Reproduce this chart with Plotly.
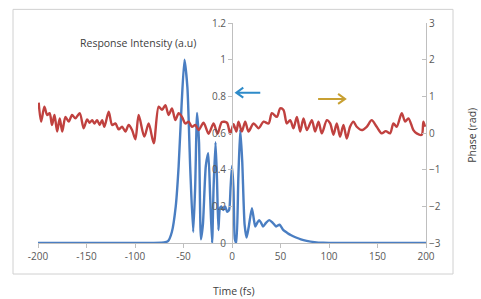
import plotly.graph_objects as go

# ---- data ----
time_intensity = [-200, -100, -70, -66, -62, -58, -55, -52, -49, -46, -43, -40, -38, -36, -34, -32, -30,
                  -27, -24.5, -22.5, -20.5, -19, -17, -15.5, -14, -12.5, -11, -9, -7, -5, -3, -1.5, 0,
                  1.5, 3, 4.5, 6.5, 8.5, 10.5, 13, 15, 17, 20.5, 22.5, 24, 26, 28, 30, 32, 35, 38.5,
                  42, 45.5, 49, 53, 57, 61, 66, 71, 77, 85, 94, 100, 200]
intensity = [0, 0, 0.003, 0.01, 0.06, 0.2, 0.42, 0.75, 1.0, 0.85, 0.4, 0.06, 0.3, 0.71, 0.55, 0.02, 0.1,
             0.42, 0.49, 0.25, 0.0, 0.3, 0.55, 0.35, 0.07, 0.19, 0.2, 0.18, 0.2, 0.17, 0.18, 0.3, 0.42,
             0.3, 0.02, 0.0, 0.35, 0.62, 0.45, 0.1, 0.03, 0.08, 0.19, 0.13, 0.09, 0.11, 0.125, 0.11, 0.09,
             0.11, 0.125, 0.11, 0.09, 0.1, 0.07, 0.055, 0.042, 0.03, 0.02, 0.012, 0.005, 0.001, 0, 0]

time_phase = [-199.3, -196.8, -193.4, -190.6, -188, -185.6, -183, -180.3, -177.6, -175, -171.7, -168.3,
              -164.9, -161.4, -157, -152.9, -149.4, -146.7, -144.2, -141.9, -139.1, -136.4, -133.9,
              -131.6, -127.1, -123.6, -120.2, -116.8, -113.3, -109.9, -106.5, -103, -99.6, -96.2,
              -90.4, -85.9, -80.7, -75.6, -72.1, -68.7, -65.3, -61.9, -58.4, -55, -51.6, -48.1, -44.7,
              -41.3, -37.8, -34.4, -29.3, -24.1, -19, -14.9, -10.4, -5.2, -1.8, 1.6, 4.5, 6.7, 10.2,
              13.6, 17, 22.2, 27.4, 32.5, 37.7, 41.1, 46.3, 49.7, 53.1, 56.5, 60, 63.4, 66.9, 70.3,
              73.7, 77.2, 82.3, 85.7, 89.2, 92.6, 97.8, 101.2, 104.6, 108, 111.4, 114.9, 118.3, 121.7,
              125.2, 128.6, 133.8, 138.9, 144, 149.2, 154.3, 158.5, 163, 166.4, 169.8, 175, 178.5,
              181.9, 187, 190.4, 195.6, 197.3, 199]
phase = [0.83, 0.31, 0.72, 0.49, 0.54, 0.22, 0.49, 0.04, 0.4, 0.04, 0.44, 0.31,
         0.49, 0.4, 0.54, 0.13, 0.37, 0.28, 0.35, 0.26, 0.35, 0.22, 0.35,
         0.17, 0.58, 0.22, 0.26, 0.1, 0.17, 0.04, 0.22, 0.08, -0.17, 0.49,
         -0.1, 0.26, -0.28, 0.72, 0.63, 0.76, 0.49, 0.67, 0.35, 0.54, 0.44, 0.26, 0.31,
         0.17, 0.22, 0.08, 0.28, -0.02, 0.26, -0.02, 0.3, 0.28, -0.02, 0.24, 0.04, 0.31, 0.04,
         0.31, 0.04, 0.26, 0.13, 0.31, 0.26, 0.54, 0.44, 0.67, 0.63, 0.26, 0.35, 0.13, 0.44, 0.04,
         0.4, 0.08, 0.35, 0.04, 0.31, -0.01, 0.35, 0.26, -0.05, 0.26, -0.1, 0.22, -0.15, 0.17,
         0.31, 0.17, 0.08, 0.17, 0.35, 0.17, -0.01, 0.05, -0.01, 0.26, 0.17, 0.54, 0.31,
         0.4, 0.08, -0.01, -0.05, 0.31, 0.17]

x_ticks = [-200, -150, -100, -50, 0, 50, 100, 150, 200]
y1_ticks = [0, 0.2, 0.4, 0.6, 0.8, 1, 1.2]
y1_labels = ["0", "0.2", "0.4", "0.6", "0.8", "1", "1.2"]
y2_ticks = [-3, -2, -1, 0, 1, 2, 3]

FONT = "Open Sans"
GREY = "#595959"
AXIS = "#BFBFBF"

fig = go.Figure()
fig.add_trace(go.Scatter(x=time_intensity, y=intensity, mode="lines",
                         line=dict(color="#4A7EC2", width=2.4, shape="spline", smoothing=0.6),
                         yaxis="y", showlegend=False))
fig.add_trace(go.Scatter(x=time_phase, y=phase, mode="lines",
                         line=dict(color="#C0413F", width=2.4, shape="spline", smoothing=0.8),
                         yaxis="y2", showlegend=False))

fig.update_layout(
    width=481, height=299, autosize=False,
    margin=dict(l=38, r=55, t=23, b=56),
    paper_bgcolor="white", plot_bgcolor="white",
    font=dict(family=FONT, size=10, color=GREY),
    xaxis=dict(range=[-200, 200], tickvals=x_ticks, ticktext=[str(v) for v in x_ticks],
               showgrid=False, zeroline=False, showline=True, linecolor=AXIS, linewidth=1,
               ticks="outside", ticklen=4, tickcolor=AXIS, tickfont=dict(size=10, color=GREY)),
    yaxis=dict(range=[0, 1.2], tickvals=y1_ticks, ticktext=y1_labels,
               anchor="free", position=0.5, showgrid=False, zeroline=False, showline=True,
               linecolor=AXIS, linewidth=1, ticks="outside", ticklen=4, tickcolor=AXIS,
               tickfont=dict(size=10, color=GREY)),
    yaxis2=dict(range=[-3, 3], tickvals=y2_ticks, overlaying="y", side="right", anchor="x",
                showgrid=False, zeroline=False, showline=True, linecolor=AXIS, linewidth=1,
                ticks="inside", ticklen=4, tickcolor=AXIS, tickfont=dict(size=10, color=GREY)),
)

# chart border
fig.add_shape(type="rect", xref="paper", yref="paper", x0=-0.0644, x1=1.0696, y0=-0.141, y1=1.062,
              line=dict(color="#D0D0D0", width=1), layer="below")

# titles
fig.add_annotation(text="Response Intensity (a.u)", xref="paper", yref="paper", x=0.258, y=0.909,
                   xanchor="center", yanchor="middle",
                   showarrow=False, font=dict(family=FONT, size=10.5, color="#404040"))
fig.add_annotation(text="Time (fs)", xref="paper", yref="paper", x=0.505, y=-0.218,
                   xanchor="center", yanchor="middle",
                   showarrow=False, font=dict(family=FONT, size=10.5, color="#404040"))
fig.add_annotation(text="Phase (rad)", xref="paper", yref="paper", x=1.12, y=0.49, textangle=-90,
                   xanchor="center", yanchor="middle",
                   showarrow=False, font=dict(family=FONT, size=10.5, color="#404040"))

# arrows
fig.add_shape(type="path", xref="x", yref="y", xsizemode="pixel", ysizemode="pixel",
              xanchor=4.4, yanchor=0.82, path="M 24,0 L 0,0 M 7,5 L 0,0 L 7,-5",
              line=dict(color="#2E8BC9", width=2))
fig.add_shape(type="path", xref="x", yref="y", xsizemode="pixel", ysizemode="pixel",
              xanchor=116.6, yanchor=0.786, path="M -27,0 L 0,0 M -7,5 L 0,0 L -7,-5",
              line=dict(color="#C8A032", width=2))

fig.write_html("out.html", config={"displayModeBar": False},
               post_script="document.body.style.margin='0';document.body.style.overflow='hidden';")
